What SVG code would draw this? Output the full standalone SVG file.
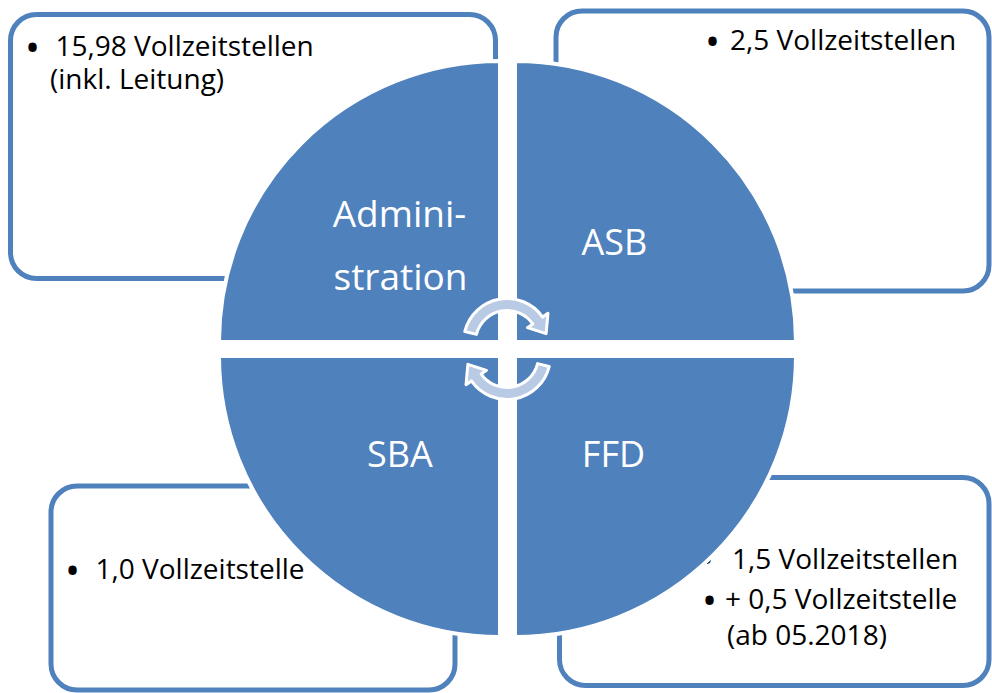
<svg xmlns="http://www.w3.org/2000/svg" width="992" height="693" viewBox="0 0 992 693">
<defs>
<style>
.box{fill:#FFFFFF;stroke:#4F81BD;stroke-width:5}
.txt{font-family:"Open Sans","Liberation Sans",sans-serif;font-size:28px;fill:#000000}
.bul{font-family:"Open Sans","Liberation Sans",sans-serif;font-size:40px;fill:#000000}
.q{fill:#4F81BD;stroke:#FFFFFF;stroke-width:4}
.lbl{font-family:"Open Sans","Liberation Sans",sans-serif;font-size:37px;fill:#FFFFFF;text-anchor:middle}
.arr{fill:#B9CAE4;stroke:#FFFFFF;stroke-width:3;stroke-linejoin:round}
</style>
<path id="carrow" d="M-42.21,-10.52 A43.5,43.5 0 0 1 35.63,-24.95 L40.96,-28.68 L39.13,-8.32 L20.48,-14.34 L25.80,-18.07 A31.5,31.5 0 0 0 -30.56,-7.62 Z"/>
</defs>
<rect width="992" height="693" fill="#FFFFFF"/>
<g id="box-admin">
<rect class="box" x="10.5" y="14.5" width="485" height="264" rx="26"/>
<text class="bul" x="25" y="62">•</text>
<text class="txt" x="55.5" y="56">15,98 Vollzeitstellen</text>
<text class="txt" x="50" y="89">(inkl. Leitung)</text>
</g>
<g id="box-asb">
<rect class="box" x="556" y="11" width="433" height="280" rx="26"/>
<text class="bul" x="705" y="56">•</text>
<text class="txt" x="730" y="50">2,5 Vollzeitstellen</text>
</g>
<g id="box-sba">
<rect class="box" x="51" y="486" width="404" height="204" rx="26"/>
<text class="bul" x="65" y="585">•</text>
<text class="txt" x="95.5" y="579">1,0 Vollzeitstelle</text>
</g>
<g id="box-ffd">
<rect class="box" x="559.5" y="477.5" width="429.5" height="208" rx="26"/>
<text class="bul" x="699" y="574">•</text>
<text class="txt" x="732" y="569">1,5 Vollzeitstellen</text>
<text class="bul" x="702" y="615">•</text>
<text class="txt" x="725" y="609">+ 0,5 Vollzeitstelle</text>
<text class="txt" x="727" y="645">(ab 05.2018)</text>
</g>
<g id="quadrant-admin">
<path class="q" d="M500,342 L219,342 A281,281 0 0 1 500,61 Z"/>
<text class="lbl" x="399.5" y="226.5">Admini-</text>
<text class="lbl" x="400.5" y="290">stration</text>
</g>
<g id="quadrant-asb">
<path class="q" d="M515,342 L515,61 A281,281 0 0 1 796,342 Z"/>
<text class="lbl" x="614.5" y="255" style="font-size:36px">ASB</text>
</g>
<g id="quadrant-sba">
<path class="q" d="M500,356 L500,637 A281,281 0 0 1 219,356 Z"/>
<text class="lbl" x="400" y="466.5" style="font-size:36px">SBA</text>
</g>
<g id="quadrant-ffd">
<path class="q" d="M515,356 L796,356 A281,281 0 0 1 515,637 Z"/>
<text class="lbl" x="613.5" y="466.5" style="font-size:36px">FFD</text>
</g>
<g id="connectors">
<use href="#carrow" class="arr" transform="translate(507,342)"/>
<use href="#carrow" class="arr" transform="translate(507,356) rotate(180)"/>
</g>
</svg>
